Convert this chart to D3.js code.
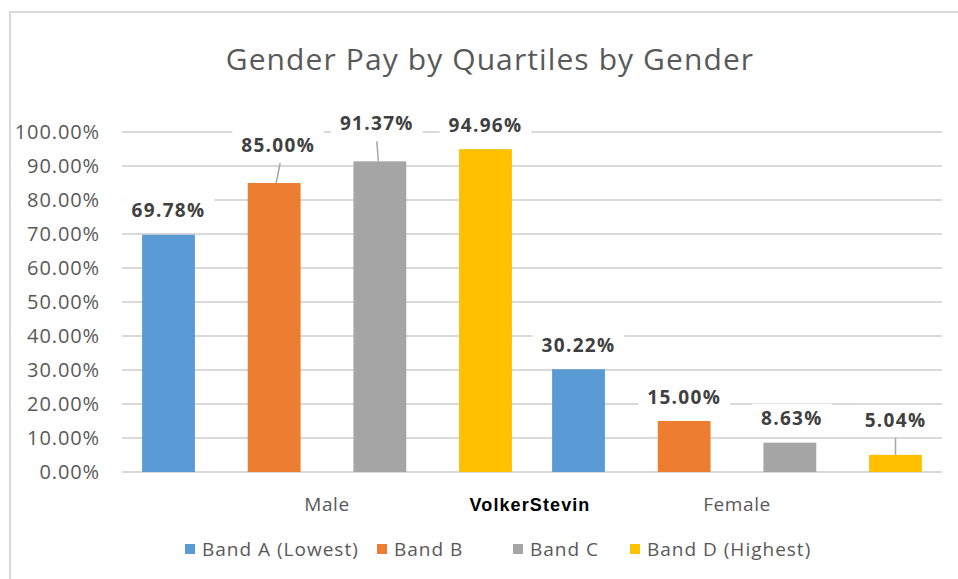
<!DOCTYPE html>
<html>
<head>
<meta charset="utf-8">
<script src="https://cdn.jsdelivr.net/npm/d3@7"></script>
<style>
  body { margin: 0; background: #fff; }
  text { font-family: "Open Sans", "Noto Sans", sans-serif; }
</style>
</head>
<body>
<div class="chartDiv"></div>
<script>
'use strict';

var genders = ["Male", "Female"];
var bands = ["Band A (Lowest)", "Band B", "Band C", "Band D (Highest)"];
var colors = ["#5b9bd5", "#ed7d31", "#a5a5a5", "#ffc000"];
var maleValues = [0.6978, 0.85, 0.9137, 0.9496];
var femaleValues = [0.3022, 0.15, 0.0863, 0.0504];
var yTicks = [0, 0.1, 0.2, 0.3, 0.4, 0.5, 0.6, 0.7, 0.8, 0.9, 1.0];
var companyName = "VolkerStevin";

// manual label moves (as dragged in the original), [dx, extra lift]
var labelMoves = {
  "Male-Band B": [4, 14],
  "Male-Band C": [-3, 14],
  "Female-Band C": [2, 0],
  "Female-Band D (Highest)": [0, 11]
};

var width = 958, height = 579;
var margin = { top: 132, right: 16, bottom: 107, left: 122 };
var plotW = width - margin.left - margin.right,
    plotH = height - margin.top - margin.bottom;

var svg = d3.select('.chartDiv').append('svg')
    .attr('width', width)
    .attr('height', height);

// chart frame
svg.append("path")
    .attr("d", "M10," + height + "V12H" + width)
    .attr("fill", "none")
    .attr("stroke", "#d9d9d9")
    .attr("stroke-width", 2);

svg.append("text")
    .attr("x", 490)
    .attr("y", 70)
    .attr("text-anchor", "middle")
    .style("font-size", "30px")
    .style("letter-spacing", "1.1px")
    .style("fill", "#595959")
    .text("Gender Pay by Quartiles by Gender");

var g = svg.append("g")
    .attr("transform", "translate(" + margin.left + "," + margin.top + ")");

var y = d3.scaleLinear().domain([0, 1]).range([plotH, 0]);
var x0 = d3.scaleBand().domain(genders).range([0, plotW]);
var x1 = d3.scaleBand().domain(bands).range([0, x0.bandwidth()])
    .paddingInner(0.5).paddingOuter(0.19);

// gridlines
g.selectAll(".grid")
  .data(yTicks)
  .enter().append("line")
    .attr("class", "grid")
    .attr("x1", 0).attr("x2", plotW)
    .attr("y1", function(d) { return y(d); })
    .attr("y2", function(d) { return y(d); })
    .attr("stroke", "#d9d9d9")
    .attr("stroke-width", 2);

// y axis labels
var yAxis = d3.axisLeft(y).tickValues(yTicks).tickSize(0).tickPadding(22)
    .tickFormat(d3.format(".2%"));
var ya = g.append("g").call(yAxis);
ya.select(".domain").remove();
ya.selectAll("text")
    .style("font-size", "20px")
    .style("letter-spacing", "0.9px")
    .style("fill", "#595959")
    .style("font-family", "'Open Sans', sans-serif");

var rows = [];
genders.forEach(function(gd, gi) {
  var vals = gi === 0 ? maleValues : femaleValues;
  bands.forEach(function(b, bi) {
    rows.push({ gender: gd, band: b, value: vals[bi], color: colors[bi] });
  });
});

g.selectAll(".bar")
  .data(rows)
  .enter().append("rect")
    .attr("class", "bar")
    .attr("x", function(d) { return x0(d.gender) + x1(d.band); })
    .attr("width", x1.bandwidth())
    .attr("y", function(d) { return y(d.value); })
    .attr("height", function(d) { return plotH - y(d.value); })
    .attr("fill", function(d) { return d.color; });

// data labels
var label = g.selectAll(".lbl")
  .data(rows)
  .enter().append("g")
    .attr("class", "lbl")
    .attr("transform", function(d) {
      var mv = labelMoves[d.gender + "-" + d.band] || [0, 0];
      var cx = x0(d.gender) + x1(d.band) + x1.bandwidth() / 2 + mv[0];
      var cy = y(d.value) - 24 - mv[1];
      return "translate(" + cx + "," + cy + ")";
    });

// leader lines for moved labels
label.each(function(d) {
  var mv = labelMoves[d.gender + "-" + d.band];
  if (!mv || mv[1] < 5) return;
  var barTop = 24 + mv[1];
  d3.select(this).append("line")
    .attr("x1", mv[0] > 0 ? 2 : 0).attr("y1", 18)
    .attr("x2", -mv[0] / 2).attr("y2", barTop)
    .attr("stroke", "#a6a6a6")
    .attr("stroke-width", 1.5);
});

var lblText = label.append("text")
    .attr("text-anchor", "middle")
    .attr("dy", "0.35em")
    .style("font-size", "19px")
    .style("letter-spacing", "1.3px")
    .style("font-weight", "bold")
    .style("fill", "#404040")
    .text(function(d) { return d3.format(".2%")(d.value); });

lblText.each(function() {
  var w = this.getComputedTextLength();
  d3.select(this.parentNode).insert("rect", "text")
    .attr("x", -w / 2 - 9).attr("y", -15)
    .attr("width", w + 18).attr("height", 30)
    .attr("fill", "#fff");
});

// category labels
g.selectAll(".cat")
  .data(genders)
  .enter().append("text")
    .attr("class", "cat")
    .attr("x", function(d) { return x0(d) + x0.bandwidth() / 2; })
    .attr("y", plotH + 39)
    .attr("text-anchor", "middle")
    .style("font-size", "19px")
    .style("letter-spacing", "0.6px")
    .style("fill", "#595959")
    .text(function(d) { return d; });

g.append("text")
    .attr("x", plotW / 2 - 2)
    .attr("y", plotH + 39)
    .attr("text-anchor", "middle")
    .style("font-size", "18px")
    .style("letter-spacing", "1.1px")
    .style("font-weight", "bold")
    .style("font-family", "'Liberation Sans', Arial, sans-serif")
    .style("fill", "#000")
    .text(companyName);

// legend
var legendX = [185, 377, 513, 630];
var legend = svg.selectAll(".legend")
  .data(bands)
  .enter().append("g")
    .attr("class", "legend")
    .attr("transform", function(d, i) { return "translate(" + legendX[i] + ",549)"; });

legend.append("rect")
    .attr("x", 0).attr("y", -5)
    .attr("width", 10).attr("height", 10)
    .attr("fill", function(d, i) { return colors[i]; });

legend.append("text")
    .attr("x", 17)
    .attr("dy", "0.35em")
    .style("font-size", "19px")
    .style("letter-spacing", "1px")
    .style("fill", "#595959")
    .text(function(d) { return d; });
</script>
</body>
</html>
